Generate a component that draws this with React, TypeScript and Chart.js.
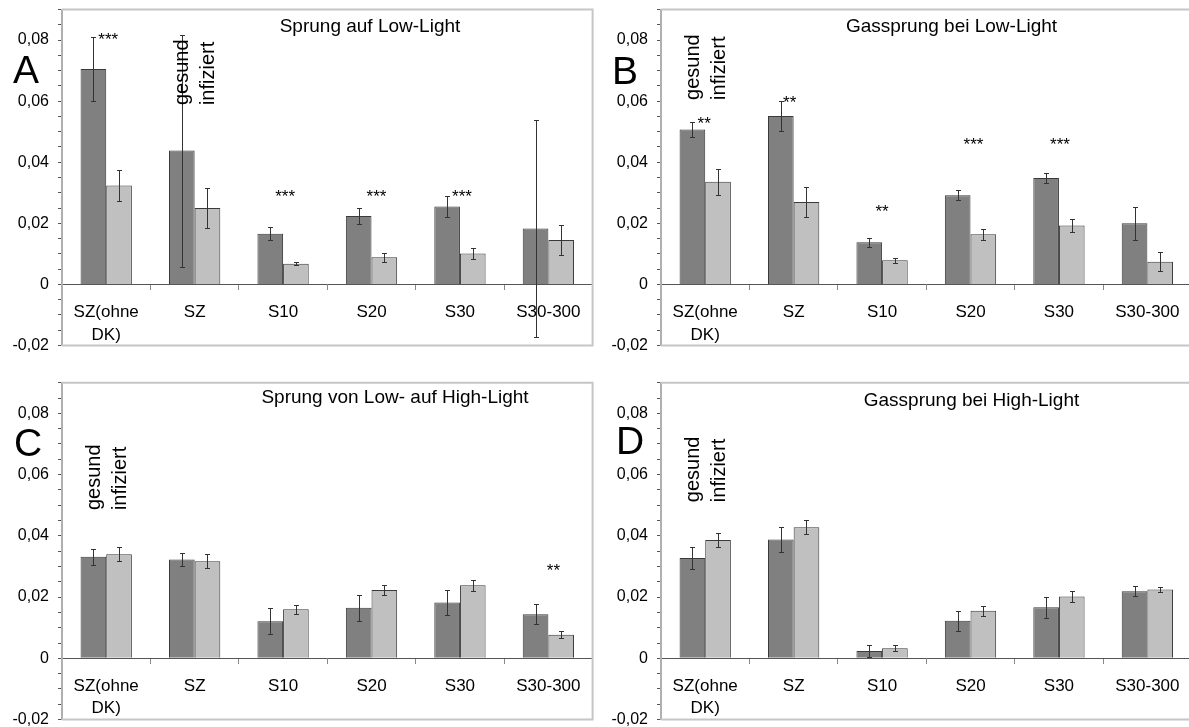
import React, { useEffect, useRef } from "react";
import { Chart, registerables } from "chart.js";

Chart.register(...registerables);

const FONT = "'Liberation Sans', Arial, sans-serif";

// ---------- data ----------
const categories: (string | string[])[] = [["SZ(ohne", "DK)"], "SZ", "S10", "S20", "S30", "S30-300"];
const seriesLabels = ["gesund", "infiziert"];
const yMin = -0.02;
const yMax = 0.09;
const yMinorStep = 0.005;
const yLabelStep = 0.02;

// A: Sprung auf Low-Light
const aGesund = [0.0705, 0.0438, 0.0166, 0.0224, 0.0255, 0.0183];
const aGesundErr = [0.0105, 0.038, 0.0021, 0.0027, 0.0034, 0.0355];
const aInfiziert = [0.0324, 0.025, 0.0068, 0.0089, 0.0101, 0.0145];
const aInfiziertErr = [0.0051, 0.0064, 0.0006, 0.0015, 0.0018, 0.005];

// B: Gassprung bei Low-Light
const bGesund = [0.0507, 0.0551, 0.0138, 0.0292, 0.0348, 0.02];
const bGesundErr = [0.0025, 0.0048, 0.0015, 0.0017, 0.0017, 0.0053];
const bInfiziert = [0.0336, 0.027, 0.0079, 0.0164, 0.0193, 0.0074];
const bInfiziertErr = [0.0042, 0.0048, 0.0009, 0.0018, 0.0021, 0.0031];

// C: Sprung von Low- auf High-Light
const cGesund = [0.0332, 0.0323, 0.0121, 0.0165, 0.0182, 0.0144];
const cGesundErr = [0.0026, 0.002, 0.0042, 0.0042, 0.0042, 0.0032];
const cInfiziert = [0.034, 0.0317, 0.016, 0.0223, 0.0239, 0.0077];
const cInfiziertErr = [0.0023, 0.0023, 0.0014, 0.0017, 0.0018, 0.0012];

// D: Gassprung bei High-Light
const dGesund = [0.0328, 0.0388, 0.0024, 0.0123, 0.0167, 0.0219];
const dGesundErr = [0.0037, 0.004, 0.002, 0.0033, 0.0034, 0.0016];
const dInfiziert = [0.0386, 0.0428, 0.0033, 0.0155, 0.0202, 0.0225];
const dInfiziertErr = [0.0023, 0.0023, 0.001, 0.0017, 0.0017, 0.0009];

// significance marks: category index, value of the mark, text
const aStars = [
  { cat: 0, value: 0.0814, text: "***", dx: 2 },
  { cat: 2, value: 0.0302, text: "***", dx: 2 },
  { cat: 3, value: 0.0302, text: "***", dx: 5 },
  { cat: 4, value: 0.0302, text: "***", dx: 2 },
];
const bStars = [
  { cat: 0, value: 0.0541, text: "**", dx: -1 },
  { cat: 1, value: 0.061, text: "**", dx: -4 },
  { cat: 2, value: 0.0254, text: "**", dx: 0 },
  { cat: 3, value: 0.0473, text: "***", dx: 3 },
  { cat: 4, value: 0.0473, text: "***", dx: 1 },
];
const cStars = [{ cat: 5, value: 0.0299, text: "**", dx: 5 }];
const dStars: { cat: number; value: number; text: string; dx: number }[] = [];

type Star = { cat: number; value: number; text: string; dx: number };
type PanelCfg = {
  letter: string;
  title: string;
  gesund: number[];
  gesundErr: number[];
  infiziert: number[];
  infiziertErr: number[];
  stars: Star[];
  labelCat: number;
  labelValue: number;
  left: number;
  top: number;
  width: number;
  height: number;
  axisWidth: number;
  padTop: number;
  padBottom: number;
  padRight: number;
  titleCx: number;
  titleBase: number;
  letterX: number;
  letterBase: number;
};

const panels: PanelCfg[] = [
  {
    letter: "A", title: "Sprung auf Low-Light",
    gesund: aGesund, gesundErr: aGesundErr, infiziert: aInfiziert, infiziertErr: aInfiziertErr,
    stars: aStars, labelCat: 1, labelValue: 0.0587,
    left: 0, top: -11, width: 594, height: 378, axisWidth: 62, padTop: 20.5, padBottom: 21.5, padRight: 1.4,
    titleCx: 308, titleBase: 22.2, letterX: -49, letterBase: 73.5,
  },
  {
    letter: "B", title: "Gassprung bei Low-Light",
    gesund: bGesund, gesundErr: bGesundErr, infiziert: bInfiziert, infiziertErr: bInfiziertErr,
    stars: bStars, labelCat: 0, labelValue: 0.0604,
    left: 594, top: -11, width: 600, height: 378, axisWidth: 67, padTop: 20.5, padBottom: 21.5, padRight: 2.4,
    titleCx: 290.5, titleBase: 22.8, letterX: -49, letterBase: 74.5,
  },
  {
    letter: "C", title: "Sprung von Low- auf High-Light",
    gesund: cGesund, gesundErr: cGesundErr, infiziert: cInfiziert, infiziertErr: cInfiziertErr,
    stars: cStars, labelCat: 0, labelValue: 0.0484,
    left: 0, top: 362, width: 594, height: 380, axisWidth: 62, padTop: 20.7, padBottom: 22.4, padRight: 1.4,
    titleCx: 333, titleBase: 20.6, letterX: -48, letterBase: 73,
  },
  {
    letter: "D", title: "Gassprung bei High-Light",
    gesund: dGesund, gesundErr: dGesundErr, infiziert: dInfiziert, infiziertErr: dInfiziertErr,
    stars: dStars, labelCat: 0, labelValue: 0.051,
    left: 594, top: 362, width: 600, height: 380, axisWidth: 67, padTop: 20.7, padBottom: 22.4, padRight: 2.4,
    titleCx: 310.5, titleBase: 23.3, letterX: -45, letterBase: 71,
  },
];

function fmtTick(v: number): string {
  const r = Math.round(v / yLabelStep);
  if (Math.abs(v - r * yLabelStep) > 1e-9) return "";
  if (r === 0) return "0";
  return (r * yLabelStep).toFixed(2).replace(".", ",");
}

function Panel({ cfg }: { cfg: PanelCfg }) {
  const ref = useRef<HTMLCanvasElement>(null);

  useEffect(() => {
    const canvas = ref.current;
    if (!canvas) return;

    const decor = {
      id: "decor",
      beforeDatasetsDraw(chart: any) {
        const { ctx, chartArea: ca } = chart;
        ctx.save();
        ctx.strokeStyle = "#c6c6c6";
        ctx.lineWidth = 2;
        ctx.beginPath();
        ctx.moveTo(ca.left, ca.top);
        ctx.lineTo(ca.right, ca.top);
        ctx.lineTo(ca.right, ca.bottom);
        ctx.lineTo(ca.left, ca.bottom);
        ctx.stroke();
        ctx.restore();
      },
      afterDatasetsDraw(chart: any) {
        const { ctx } = chart;
        const y = chart.scales.y;
        ctx.save();
        ctx.strokeStyle = "#333333";
        ctx.lineWidth = 1;
        chart.data.datasets.forEach((ds: any, i: number) => {
          const meta = chart.getDatasetMeta(i);
          meta.data.forEach((el: any, j: number) => {
            const v = ds.data[j];
            const e = ds.errors[j];
            const x = Math.round(el.x) + 0.5;
            const yt = Math.round(y.getPixelForValue(v + e)) + 0.5;
            const yb = Math.round(y.getPixelForValue(v - e)) + 0.5;
            ctx.beginPath();
            ctx.moveTo(x, yt);
            ctx.lineTo(x, yb);
            ctx.moveTo(x - 2.5, yt);
            ctx.lineTo(x + 2.5, yt);
            ctx.moveTo(x - 2.5, yb);
            ctx.lineTo(x + 2.5, yb);
            ctx.stroke();
          });
        });
        ctx.restore();
      },
      afterDraw(chart: any) {
        const { ctx, chartArea: ca } = chart;
        const xs = chart.scales.x;
        const ys = chart.scales.y;
        ctx.save();
        ctx.fillStyle = "#000";
        // title
        ctx.font = `19px ${FONT}`;
        ctx.textAlign = "center";
        ctx.textBaseline = "alphabetic";
        ctx.fillText(cfg.title, ca.left + cfg.titleCx, ca.top + cfg.titleBase);
        // panel letter
        ctx.font = `39px ${FONT}`;
        ctx.textAlign = "left";
        ctx.fillText(cfg.letter, ca.left + cfg.letterX, ca.top + cfg.letterBase);
        // stars
        ctx.font = `17px ${FONT}`;
        ctx.textAlign = "center";
        cfg.stars.forEach((s) => {
          const px = xs.getPixelForValue(s.cat) + s.dx;
          const py = ys.getPixelForValue(s.value) + 0.57 * 17;
          ctx.fillText(s.text, px, py);
        });
        // rotated series labels
        ctx.font = `20px ${FONT}`;
        ctx.textAlign = "left";
        ctx.textBaseline = "middle";
        seriesLabels.forEach((lbl, i) => {
          const el = chart.getDatasetMeta(i).data[cfg.labelCat];
          const py = ys.getPixelForValue(cfg.labelValue);
          ctx.save();
          ctx.translate(el.x + 1, py);
          ctx.rotate(-Math.PI / 2);
          ctx.fillText(lbl, 0, 0);
          ctx.restore();
        });
        ctx.restore();
      },
    };

    const chart = new Chart(canvas, {
      type: "bar",
      data: {
        labels: categories,
        datasets: [
          {
            label: seriesLabels[0],
            data: cfg.gesund,
            errors: cfg.gesundErr,
            backgroundColor: "#808080",
            borderColor: "#3a3a3a",
            borderWidth: 1,
          } as any,
          {
            label: seriesLabels[1],
            data: cfg.infiziert,
            errors: cfg.infiziertErr,
            backgroundColor: "#c0c0c0",
            borderColor: "#3a3a3a",
            borderWidth: 1,
          } as any,
        ],
      },
      options: {
        animation: false,
        responsive: false,
        maintainAspectRatio: false,
        devicePixelRatio: 1,
        layout: { padding: { top: cfg.padTop, bottom: cfg.padBottom, left: 0, right: cfg.padRight } },
        datasets: { bar: { categoryPercentage: 0.58, barPercentage: 1 } },
        plugins: { legend: { display: false }, tooltip: { enabled: false }, title: { display: false } },
        scales: {
          x: {
            type: "category",
            position: { y: 0 } as any,
            offset: true,
            z: 1,
            grid: { display: true, drawOnChartArea: false, drawTicks: true, tickLength: 5, color: "#888", offset: true },
            border: { display: true, color: "#555", width: 1 },
            ticks: {
              font: { family: FONT, size: 17, lineHeight: 1.35 },
              color: "#000",
              padding: 11,
              maxRotation: 0,
              autoSkip: false,
            },
            afterFit: (s: any) => {
              s.height = 0;
            },
          },
          y: {
            min: yMin,
            max: yMax,
            grid: { display: true, drawOnChartArea: false, drawTicks: true, tickLength: 4, color: "#555" },
            border: { display: true, color: "#b0b0b0", width: 2 },
            ticks: {
              stepSize: yMinorStep,
              autoSkip: false,
              padding: 9,
              color: "#000",
              font: { family: FONT, size: 16 },
              callback: (v: any) => fmtTick(Number(v)),
            },
            afterFit: (s: any) => {
              s.width = cfg.axisWidth;
            },
          },
        },
      } as any,
      plugins: [decor],
    });

    return () => chart.destroy();
  }, [cfg]);

  return (
    <canvas
      ref={ref}
      width={cfg.width}
      height={cfg.height}
      style={{ position: "absolute", left: cfg.left, top: cfg.top, width: cfg.width, height: cfg.height }}
    />
  );
}

export default function App() {
  return (
    <div
      style={{
        position: "absolute",
        left: 0,
        top: 0,
        width: 1189,
        height: 727,
        overflow: "hidden",
        background: "#fff",
      }}
    >
      {panels.map((p) => (
        <Panel key={p.letter} cfg={p} />
      ))}
    </div>
  );
}
